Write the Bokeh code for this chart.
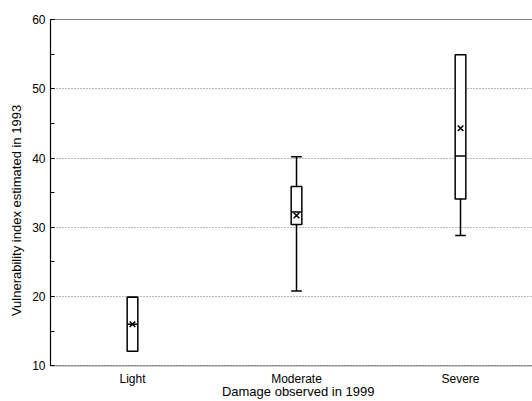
from bokeh.plotting import figure
from bokeh.models import Range1d, SingleIntervalTicker, Span, ColumnDataSource, Label
from bokeh.embed import file_html
from bokeh.resources import INLINE

# ---- data ----
categories = ["Light", "Moderate", "Severe"]
positions = [1, 2, 3]
whisker_low = [12.1, 20.8, 28.8]
q1 = [12.1, 30.4, 34.1]
median = [16.0, 32.2, 40.3]
q3 = [19.9, 35.9, 54.9]
whisker_high = [19.9, 40.2, 54.9]
means = [16.0, 31.7, 44.3]
x_title = "Damage observed in 1999"
y_title = "Vulnerability index estimated in 1993"
y_min, y_max = 10, 60

box_w = 0.065
FONT = "Liberation Sans"

# frame runs to the bottom of the page; the value axis is bounded to 10..60
px_per_unit = 346.3 / (y_max - y_min)
p = figure(width=532, height=401, output_backend="svg", toolbar_location=None,
           x_range=Range1d(0.5, 3.439),
           y_range=Range1d(y_max - 382 / px_per_unit, y_max),
           min_border_left=50, min_border_right=0, min_border_top=19, min_border_bottom=0)
p.outline_line_color = None
p.background_fill_color = "white"
p.border_fill_color = "white"

src = ColumnDataSource(dict(
    x=positions,
    x0=[x - box_w / 2 for x in positions],
    x1=[x + box_w / 2 for x in positions],
    lo=whisker_low, q1=q1, med=median, q3=q3, hi=whisker_high, mean=means,
    base=[y_min] * len(positions), cat=categories,
))

# grid
p.xgrid.grid_line_color = None
p.ygrid.grid_line_color = "#777777"
p.ygrid.grid_line_dash = "1 2"
p.ygrid.grid_line_width = 1

# bottom (category) axis line and top border
p.add_layout(Span(location=y_min, dimension="width", line_color="#333333",
                  line_dash="1 1", line_width=1.2))
p.add_layout(Span(location=y_max, dimension="width", line_color="black", line_width=1.2))

# whiskers
p.segment(x0="x", y0="lo", x1="x", y1="q1", source=src, line_color="black", line_width=1.5)
p.segment(x0="x", y0="q3", x1="x", y1="hi", source=src, line_color="black", line_width=1.5)
# caps
p.segment(x0="x0", y0="lo", x1="x1", y1="lo", source=src, line_color="black", line_width=1.5)
p.segment(x0="x0", y0="hi", x1="x1", y1="hi", source=src, line_color="black", line_width=1.5)
# boxes
p.vbar(x="x", width=box_w, bottom="q1", top="q3", source=src,
       fill_color="white", line_color="black", line_width=1.5)
# median
p.segment(x0="x0", y0="med", x1="x1", y1="med", source=src, line_color="black", line_width=1.5)
# mean
p.scatter(x="x", y="mean", source=src, marker="x", size=8, line_color="black", line_width=1.5)

# category tick labels and x title
p.text(x="x", y="base", text="cat", source=src, y_offset=13, text_align="center",
       text_baseline="alphabetic", text_font={"value": FONT}, text_font_size="12px",
       text_color="black")
p.add_layout(Label(x=2.01, y=y_min, y_offset=-26, text=x_title, text_align="center",
                   text_baseline="alphabetic", text_font=FONT, text_font_size="13px",
                   text_color="black"))

p.xaxis.visible = False

# y axis
p.yaxis.bounds = (y_min, y_max)
p.yaxis.ticker = SingleIntervalTicker(interval=10, num_minor_ticks=2)
p.yaxis.axis_label = y_title
p.yaxis.axis_line_color = "black"
p.yaxis.axis_line_width = 1.2
p.yaxis.major_tick_in = 4
p.yaxis.major_tick_out = 0
p.yaxis.minor_tick_in = 4
p.yaxis.minor_tick_out = 0
p.yaxis.major_tick_line_color = "black"
p.yaxis.minor_tick_line_color = "black"
p.yaxis.major_label_standoff = 5
p.yaxis.axis_label_standoff = 5
p.yaxis.major_label_text_font = FONT
p.yaxis.major_label_text_font_size = "12px"
p.yaxis.major_label_text_color = "black"
p.yaxis.axis_label_text_font = FONT
p.yaxis.axis_label_text_font_size = "13px"
p.yaxis.axis_label_text_font_style = "normal"
p.yaxis.axis_label_text_color = "black"

open("out.html", "w").write(file_html(p, INLINE))
